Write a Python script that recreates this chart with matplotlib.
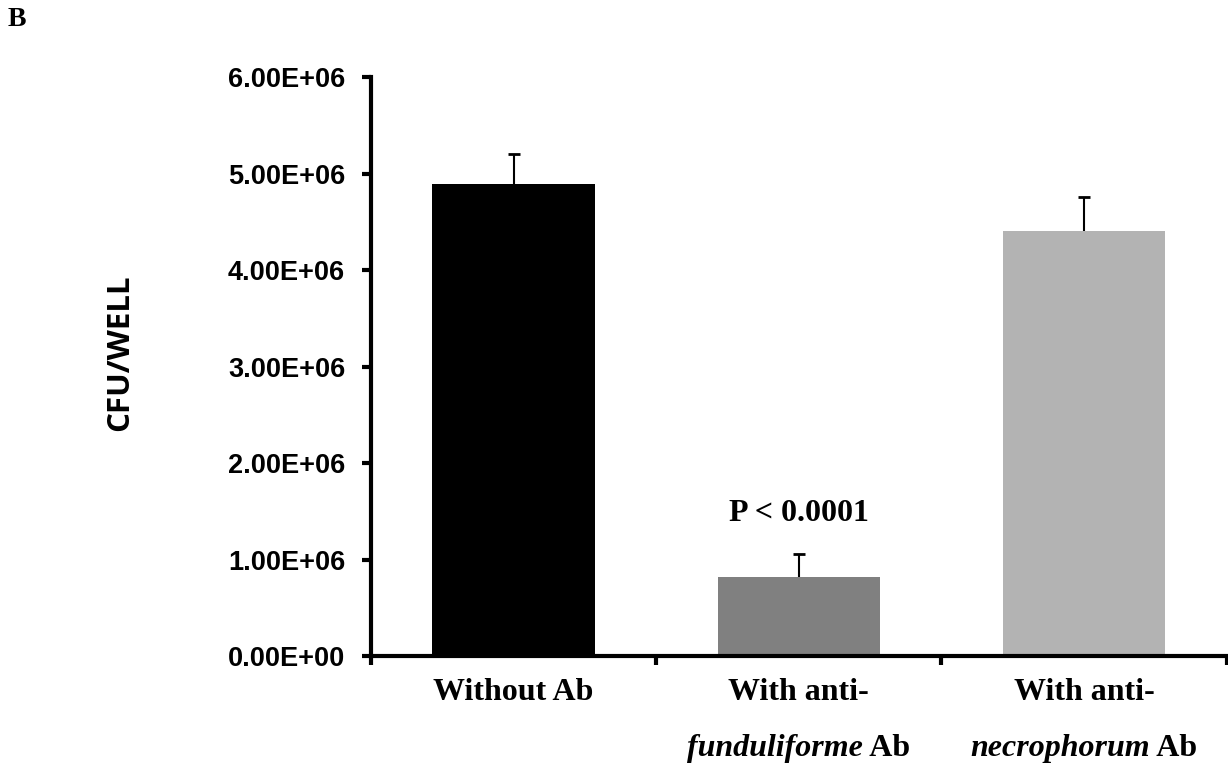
import numpy as np
import matplotlib.pyplot as plt

# data
groups = ['Without Ab', 'With anti-funduliforme Ab', 'With anti-necrophorum Ab']
line1 = ['Without Ab', 'With anti-', 'With anti-']
species = ['', 'funduliforme', 'necrophorum']
cfu = np.array([4.89e6, 0.82e6, 4.40e6])
err = np.array([0.31e6, 0.24e6, 0.36e6])
colors = ['#000000', '#808080', '#b3b3b3']
yticks = [0, 1e6, 2e6, 3e6, 4e6, 5e6, 6e6]
ytick_labels = ['0.00E+00', '1.00E+06', '2.00E+06', '3.00E+06', '4.00E+06', '5.00E+06', '6.00E+06']

fig = plt.figure(figsize=(12.28, 7.63), dpi=100)
ax = fig.add_axes([0.302, 0.140, 0.697, 0.759])

x = np.arange(len(groups))
ax.bar(x, cfu, width=0.57, color=colors, zorder=2)
# error bars: upper whisker only, cap on top
ax.vlines(x, cfu, cfu + err, color='black', linewidth=1.5, zorder=3)
ax.hlines(cfu + err, x - 0.021, x + 0.021, color='black', linewidth=2, zorder=3)

ax.set_xlim(-0.5, 2.5)
ax.set_ylim(0, 6e6)
ax.set_yticks(yticks)
ax.set_yticklabels(ytick_labels, fontfamily='Liberation Sans', fontweight='bold', fontsize=19.5)
ax.set_xticks([-0.5, 0.5, 1.5, 2.5])
ax.set_xticklabels([])

for s in ['top', 'right']:
    ax.spines[s].set_visible(False)
for s in ['left', 'bottom']:
    ax.spines[s].set_linewidth(3)
ax.tick_params(axis='both', direction='out', width=3, length=6.5)
ax.tick_params(axis='y', pad=12)

# category labels: first line plain, second line "<italic species> Ab"
font = dict(fontfamily='Liberation Serif', fontweight='bold', fontsize=23)
tr = ax.get_xaxis_transform()
for i in x:
    ax.text(i, -0.062, line1[i], transform=tr, ha='center', va='center', **font)

fig.canvas.draw()
r = fig.canvas.get_renderer()
for i in x:
    if not species[i]:
        continue
    t1 = ax.text(i, -0.159, species[i], transform=tr, ha='left', va='center', style='italic', **font)
    t2 = ax.text(i, -0.159, ' Ab', transform=tr, ha='left', va='center', **font)
    w1 = t1.get_window_extent(r).width
    w2 = t2.get_window_extent(r).width
    x0 = ax.transData.transform((i, 0))[0] - (w1 + w2) / 2
    inv = ax.transData.inverted()
    t1.set_x(inv.transform((x0, 0))[0])
    t2.set_x(inv.transform((x0 + w1, 0))[0])

ax.text(1, 1.48e6, 'P < 0.0001', ha='center', va='center', **font)

fig.text(0.098, 0.538, 'CFU/WELL', rotation=90, fontfamily='Open Sans', fontweight='bold',
         fontsize=22.5, ha='center', va='center')
fig.text(0.006, 0.975, 'B', fontfamily='Liberation Serif', fontweight='bold', fontsize=20,
         ha='left', va='center')

fig.savefig('out.png', dpi=100)
